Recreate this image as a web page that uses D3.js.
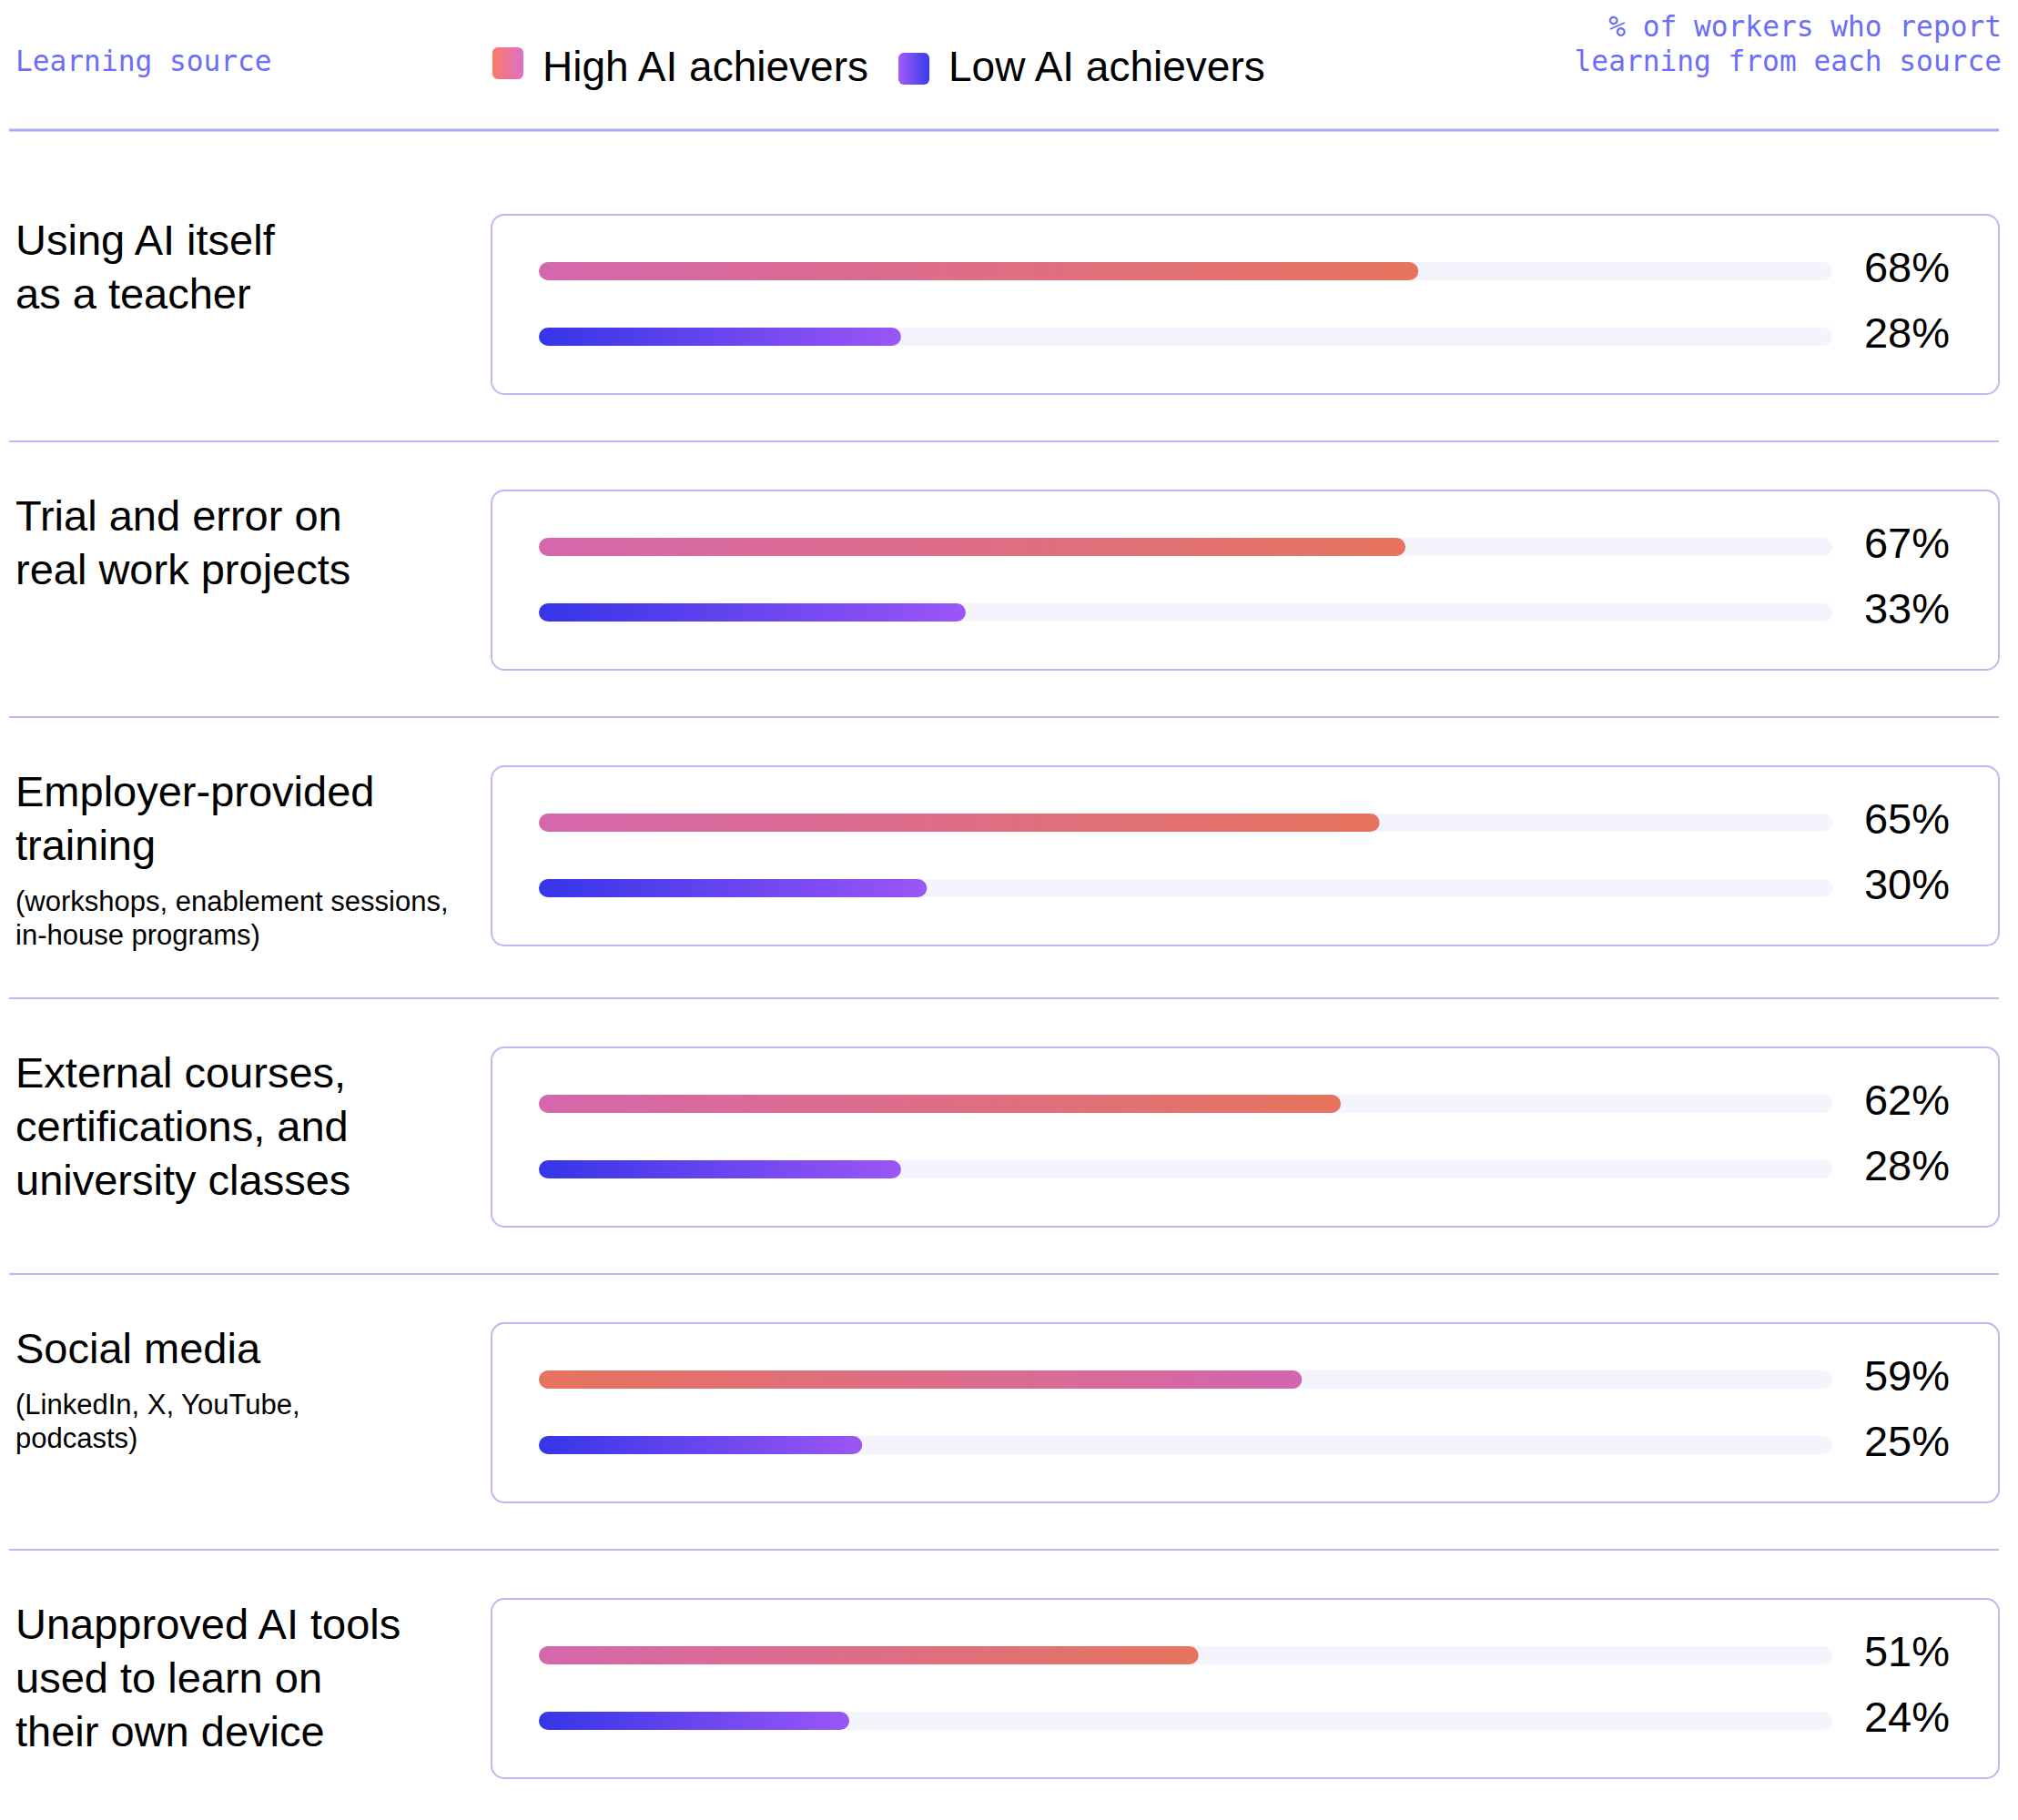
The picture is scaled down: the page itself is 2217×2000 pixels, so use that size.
<!DOCTYPE html>
<html>
<head>
<meta charset="utf-8">
<script src="https://cdn.jsdelivr.net/npm/d3@7"></script>
<style>
  html, body { margin: 0; padding: 0; background: #ffffff; }
  svg { display: block; }
</style>
</head>
<body>
<div id="chart"></div>
<script>
// Learning sources, split into the lines they are set on
const categoryLines = [
  ["Using AI itself", "as a teacher"],
  ["Trial and error on", "real work projects"],
  ["Employer-provided", "training"],
  ["External courses,", "certifications, and", "university classes"],
  ["Social media"],
  ["Unapproved AI tools", "used to learn on", "their own device"]
];
const categoryNotes = [
  [],
  [],
  ["(workshops, enablement sessions,", "in-house programs)"],
  [],
  ["(LinkedIn, X, YouTube,", "podcasts)"],
  []
];
const seriesNames = ["High AI achievers", "Low AI achievers"];
const highValues = [68, 67, 65, 62, 59, 51];
const lowValues = [28, 33, 30, 28, 25, 24];
const leftHeader = "Learning source";
const rightHeader = ["% of workers who report", "learning from each source"];
// the social media row has its high bar shaded the other way round
const flippedHighRows = ["Social media"];

const W = 2217, H = 2000;
const sans = "'Liberation Sans', Arial, Helvetica, sans-serif";
const mono = "'DejaVu Sans Mono', 'Liberation Mono', monospace";
const accent = "#6b6ef6";
const ruleColor = "#b9b9f7";

const svg = d3.select("#chart").append("svg")
  .attr("width", W).attr("height", H)
  .attr("viewBox", `0 0 ${W} ${H}`);

const defs = svg.append("defs");
function gradient(id, from, to) {
  const g = defs.append("linearGradient").attr("id", id)
    .attr("x1", "0%").attr("x2", "100%").attr("y1", "0%").attr("y2", "0%");
  g.append("stop").attr("offset", "0%").attr("stop-color", from);
  g.append("stop").attr("offset", "100%").attr("stop-color", to);
}
gradient("gHigh", "#d567ad", "#e6745d");
gradient("gHighFlip", "#e6745d", "#d266b0");
gradient("gLow", "#3535e8", "#9b56f6");
gradient("gKeyHigh", "#fb7b66", "#dd6fc6");
gradient("gKeyLow", "#a25bf8", "#3b3cee");

// ---- header ----
svg.append("text")
  .attr("x", 17).attr("y", 78)
  .attr("font-family", mono).attr("font-size", 31.2)
  .attr("fill", accent)
  .text(leftHeader);

svg.append("text")
  .attr("text-anchor", "end")
  .attr("font-family", mono).attr("font-size", 31.2)
  .attr("fill", accent)
  .selectAll("tspan").data(rightHeader).join("tspan")
  .attr("x", 2199).attr("y", (d, i) => 40 + i * 38)
  .text(d => d);

// legend
const keyItems = [
  { name: seriesNames[0], fill: "url(#gKeyHigh)", sx: 541, sy: 52, tx: 596 },
  { name: seriesNames[1], fill: "url(#gKeyLow)", sx: 987, sy: 58, tx: 1042 }
];
const key = svg.append("g").selectAll("g").data(keyItems).join("g");
key.append("rect")
  .attr("x", d => d.sx).attr("y", d => d.sy)
  .attr("width", 34).attr("height", 35).attr("rx", 6)
  .attr("fill", d => d.fill);
key.append("text")
  .attr("x", d => d.tx).attr("y", 89)
  .attr("font-family", sans).attr("font-size", 46)
  .attr("fill", "#000")
  .text(d => d.name);

svg.append("line")
  .attr("x1", 10).attr("x2", 2196).attr("y1", 143).attr("y2", 143)
  .attr("stroke", "#a9aaf6").attr("stroke-width", 3);

// ---- rows ----
const x = d3.scaleLinear().domain([0, 100]).range([592, 2013]);
const boxX = 539, boxW = 1658, boxH = 197;
const barH = 20;
const gapBelow = 52, gapAbove = 54;

const rows = categoryLines.map((lines, i) => ({
  lines,
  notes: categoryNotes[i],
  high: highValues[i],
  low: lowValues[i],
  flip: flippedHighRows.includes(lines[0])
}));

let cardTop = 236;
rows.forEach((r, i) => {
  const g = svg.append("g");

  // category label
  const titleBase = cardTop + 44;
  const label = g.append("text")
    .attr("font-family", sans).attr("fill", "#000");
  label.selectAll("tspan.t").data(r.lines).join("tspan").attr("class", "t")
    .attr("x", 17).attr("y", (d, k) => titleBase + k * 59)
    .attr("font-size", 47)
    .text(d => d);
  const noteBase = titleBase + (r.lines.length - 1) * 59 + 56;
  label.selectAll("tspan.n").data(r.notes).join("tspan").attr("class", "n")
    .attr("x", 17).attr("y", (d, k) => noteBase + k * 37)
    .attr("font-size", 31)
    .text(d => d);
  const labelBottom = r.notes.length
    ? noteBase + (r.notes.length - 1) * 37 + 7
    : titleBase + (r.lines.length - 1) * 59 + 10;

  // card
  g.append("rect")
    .attr("x", boxX + 1).attr("y", cardTop)
    .attr("width", boxW - 2).attr("height", boxH)
    .attr("rx", 14)
    .attr("fill", "#fff")
    .attr("stroke", ruleColor).attr("stroke-width", 2);

  const bars = [
    { v: r.high, cy: cardTop + 62, fill: r.flip ? "url(#gHighFlip)" : "url(#gHigh)" },
    { v: r.low, cy: cardTop + 134, fill: "url(#gLow)" }
  ];

  // tracks
  g.selectAll("rect.track").data(bars).join("rect").attr("class", "track")
    .attr("x", x(0)).attr("y", d => d.cy - barH / 2)
    .attr("width", x(100) - x(0)).attr("height", barH)
    .attr("rx", barH / 2)
    .attr("fill", "#f4f4fd");

  // value bars
  g.selectAll("rect.bar").data(bars).join("rect").attr("class", "bar")
    .attr("x", x(0)).attr("y", d => d.cy - barH / 2)
    .attr("width", d => x(d.v) - x(0)).attr("height", barH)
    .attr("rx", barH / 2)
    .attr("fill", d => d.fill);

  // value labels
  g.selectAll("text.val").data(bars).join("text").attr("class", "val")
    .attr("x", 2142).attr("y", d => d.cy + 12)
    .attr("text-anchor", "end")
    .attr("font-family", sans).attr("font-size", 47)
    .attr("fill", "#000")
    .text(d => d.v + "%");

  if (i < rows.length - 1) {
    const sep = Math.max(cardTop + boxH, labelBottom) + gapBelow;
    svg.append("line")
      .attr("x1", 10).attr("x2", 2196).attr("y1", sep).attr("y2", sep)
      .attr("stroke", ruleColor).attr("stroke-width", 2);
    cardTop = sep + gapAbove;
  }
});
</script>
</body>
</html>
